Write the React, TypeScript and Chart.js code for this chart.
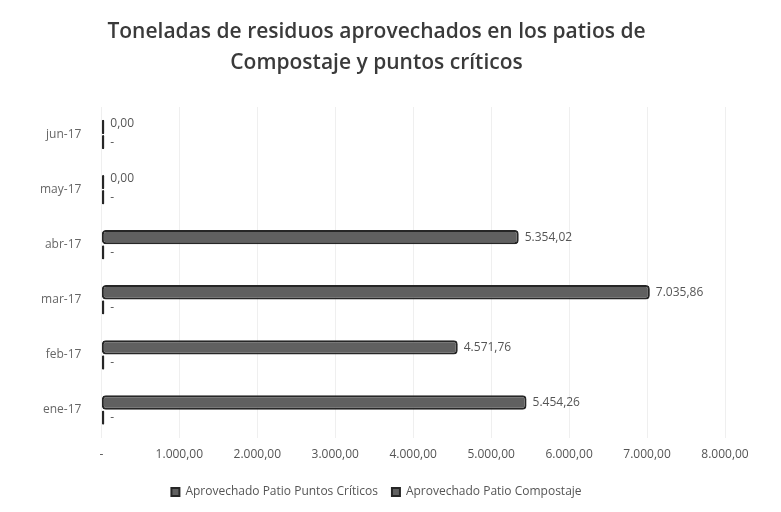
import React, { useEffect, useRef } from "react";
import { Chart, registerables } from "chart.js";

Chart.register(...registerables);

const months = ["ene-17", "feb-17", "mar-17", "abr-17", "may-17", "jun-17"];
const compostaje = [5454.26, 4571.76, 7035.86, 5354.02, 0.001, 0.001];
const puntosCriticos = [0, 0, 0, 0, 0, 0];
const titleLines = ["Toneladas de residuos aprovechados en los patios de", "Compostaje y puntos críticos"];
const xMax = 8000;
const xStep = 1000;

function fmt(v: number): string {
  const [i, d] = v.toFixed(2).split(".");
  return i.replace(/\B(?=(\d{3})+(?!\d))/g, ".") + "," + d;
}

const FONT = "'Open Sans', Lato, sans-serif";

const valueLabels = {
  id: "valueLabels",
  afterDatasetsDraw(chart: any) {
    const ctx = chart.ctx;
    ctx.save();
    ctx.font = `12px ${FONT}`;
    ctx.fillStyle = "#555";
    ctx.textBaseline = "middle";
    ctx.textAlign = "left";
    chart.data.datasets.forEach((ds: any, di: number) => {
      const meta = chart.getDatasetMeta(di);
      meta.data.forEach((bar: any, i: number) => {
        const v = ds.data[i];
        const text = v === 0 ? "-" : fmt(v);
        const dy = v > 0 && v < 0.005 ? -3 : 0;
        ctx.fillText(text, bar.x + 6, bar.y + dy);
      });
    });
    ctx.restore();
  },
};

export default function App() {
  const ref = useRef<HTMLCanvasElement>(null);
  useEffect(() => {
    document.body.style.margin = "0";
    const chart = new Chart(ref.current!, {
      type: "bar",
      data: {
        labels: months,
        datasets: [
          {
            label: "Aprovechado Patio Compostaje",
            data: compostaje,
            backgroundColor: "#606060",
            borderColor: "#262626",
            borderWidth: 2,
            borderRadius: 4,
            borderSkipped: false,
            minBarLength: 3,
            categoryPercentage: 0.55,
            barPercentage: 0.95,
          },
          {
            label: "Aprovechado Patio Puntos Críticos",
            data: puntosCriticos,
            backgroundColor: "#606060",
            borderColor: "#262626",
            borderWidth: 2,
            borderRadius: 2,
            borderSkipped: false,
            minBarLength: 3,
            categoryPercentage: 0.55,
            barPercentage: 0.95,
          },
        ],
      },
      options: {
        indexAxis: "y",
        animation: false,
        responsive: true,
        maintainAspectRatio: false,
        layout: { padding: { left: 28, right: 56, top: 4, bottom: 4 } },
        scales: {
          x: {
            min: 0,
            max: xMax,
            ticks: {
              stepSize: xStep,
              color: "#555",
              font: { family: FONT, size: 12 },
              padding: 10,
              callback: (v: any) => (v === 0 ? "-" : fmt(Number(v))),
            },
            grid: { color: "#efefef", drawTicks: false },
            border: { display: false },
          },
          y: {
            reverse: true,
            ticks: { color: "#666", font: { family: FONT, size: 12 }, padding: 12 },
            grid: { display: false },
            border: { display: false },
          },
        },
        plugins: {
          title: {
            display: true,
            text: titleLines,
            color: "#3a3a3a",
            font: { family: FONT, size: 21, weight: 600 as any, lineHeight: 1.5 },
            padding: { top: 12, bottom: 28 },
          },
          legend: {
            position: "bottom",
            labels: {
              color: "#555",
              font: { family: FONT, size: 12 },
              boxWidth: 8,
              boxHeight: 8,
              padding: 14,
              sort: (a: any, b: any) => b.datasetIndex - a.datasetIndex,
            },
          },
          tooltip: { enabled: false },
        },
      },
      plugins: [valueLabels],
    });
    return () => chart.destroy();
  }, []);
  return (
    <div style={{ width: 781, height: 512, position: "relative", background: "#fff" }}>
      <canvas ref={ref} />
    </div>
  );
}
